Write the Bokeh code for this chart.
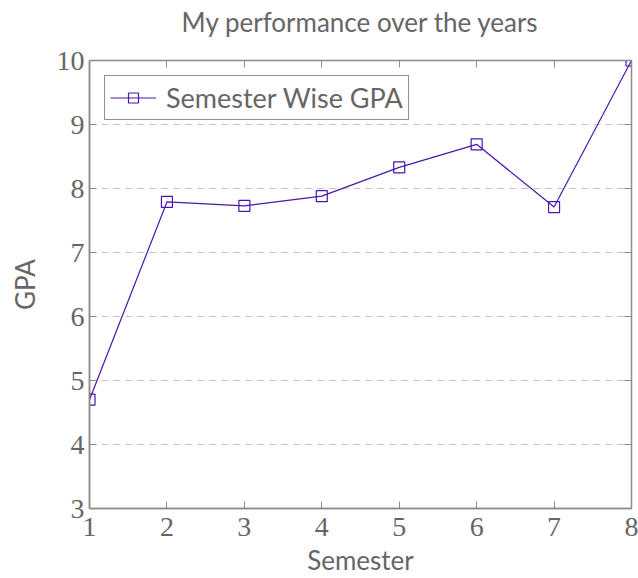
from bokeh.plotting import figure
from bokeh.models import LinearAxis, Range1d, Legend, LegendItem, FixedTicker, CustomJSTickFormatter
from bokeh.embed import file_html
from bokeh.resources import INLINE

semesters = [1, 2, 3, 4, 5, 6, 7, 8]
gpa = [4.70, 7.79, 7.73, 7.88, 8.33, 8.69, 7.71, 10.0]
x_ticks = [1, 2, 3, 4, 5, 6, 7, 8]
y_ticks = [3, 4, 5, 6, 7, 8, 9, 10]
title_text = "My performance over the years"

LINE = "#4b16ac"
TXT = "#666666"
AX = "#8c8c8c"

p = figure(width=638, height=578, output_backend="svg", toolbar_location=None,
           x_range=Range1d(1, 8), y_range=Range1d(3, 10),
           min_border_left=89, min_border_right=7, min_border_top=60, min_border_bottom=68)

p.title.text = title_text
p.title.align = "center"
p.title.vertical_align = "top"
p.title.text_font = "Lato"
p.title.text_font_size = "26px"
p.title.text_font_style = "normal"
p.title.text_color = TXT
p.title.standoff = 10

p.outline_line_color = AX
p.outline_line_width = 1.5

for ax, ticks in ((p.xaxis[0], x_ticks), (p.yaxis[0], y_ticks)):
    ax.ticker = FixedTicker(ticks=ticks)
    ax.major_label_text_font = "Liberation Serif"
    ax.major_label_text_font_size = "28px"
    ax.major_label_text_color = TXT
    ax.axis_line_color = AX
    ax.axis_line_width = 1.5
    ax.major_tick_line_color = AX
    ax.major_tick_in = 7
    ax.major_tick_out = 0
    ax.minor_tick_line_color = None
    ax.axis_label_text_font = "Lato"
    ax.axis_label_text_font_size = "26px"
    ax.axis_label_text_font_style = "normal"
    ax.axis_label_text_color = TXT

p.xaxis[0].axis_label = "Semester"
p.yaxis[0].axis_label = "GPA"
p.xaxis[0].major_label_standoff = 9
p.xaxis[0].axis_label_standoff = 5
p.yaxis[0].major_label_standoff = 5
p.yaxis[0].axis_label_standoff = 13

blank = CustomJSTickFormatter(code="return '';")
top = LinearAxis(ticker=FixedTicker(ticks=x_ticks), formatter=blank,
                 axis_line_color=None, major_tick_line_color=AX, major_tick_in=7,
                 major_tick_out=0, minor_tick_line_color=None, major_label_standoff=0)
right = LinearAxis(ticker=FixedTicker(ticks=y_ticks), formatter=blank,
                   axis_line_color=None, major_tick_line_color=AX, major_tick_in=7,
                   major_tick_out=0, minor_tick_line_color=None, major_label_standoff=0)
# invisible spacer axis between the title and the frame
spacer = LinearAxis(ticker=FixedTicker(ticks=x_ticks), formatter=blank,
                    axis_line_color=None, major_tick_line_color=AX, major_tick_line_alpha=0,
                    major_tick_in=0, major_tick_out=16, minor_tick_line_color=None,
                    major_label_standoff=0)
p.add_layout(top, "above")
p.add_layout(spacer, "above")
p.add_layout(right, "right")

p.xgrid.grid_line_color = None
p.ygrid.ticker = FixedTicker(ticks=y_ticks)
p.ygrid.grid_line_color = "#c4c4c4"
p.ygrid.grid_line_dash = "7 5"
p.ygrid.grid_line_width = 1

ln = p.line(semesters, gpa, line_color=LINE, line_width=1.2)
mk = p.scatter(semesters, gpa, marker="square", size=11, fill_color=None,
               line_color=LINE, line_width=1.2)

legend = Legend(items=[LegendItem(label="Semester Wise GPA", renderers=[ln, mk])],
                location="top_left")
legend.label_text_font = "Lato"
legend.label_text_font_size = "27px"
legend.label_text_color = TXT
legend.border_line_color = "#222222"
legend.border_line_width = 1
legend.glyph_width = 46
legend.glyph_height = 25
legend.padding = 5
legend.margin = 15
legend.spacing = 0
legend.label_standoff = 10
legend.label_height = 25
p.add_layout(legend)

open("out.html", "w").write(file_html(p, INLINE))
